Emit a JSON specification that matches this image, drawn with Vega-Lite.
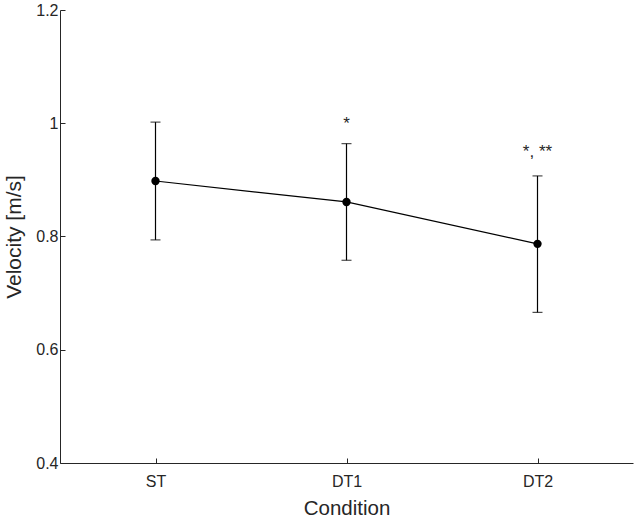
{
  "$schema": "https://vega.github.io/schema/vega-lite/v6.json",
  "width": 573,
  "height": 453,
  "autosize": "none",
  "padding": {"left": 60, "top": 10, "right": 5, "bottom": 55},
  "background": "white",
  "config": {
    "view": {"stroke": null},
    "font": "Liberation Sans",
    "axis": {
      "grid": false,
      "domainColor": "#262626",
      "tickColor": "#262626",
      "labelColor": "#262626",
      "titleColor": "#262626",
      "labelFont": "Liberation Sans",
      "titleFont": "Liberation Sans",
      "labelFontSize": 16,
      "titleFontSize": 21,
      "titleFontWeight": "normal",
      "tickSize": -5,
      "domainWidth": 1,
      "tickWidth": 1
    }
  },
  "data": {
    "values": [
      {"condition": "ST", "velocity": 0.898, "low": 0.794, "high": 1.002, "sig": "", "sig_y": 1.0},
      {"condition": "DT1", "velocity": 0.861, "low": 0.758, "high": 0.964, "sig": "*", "sig_y": 0.998},
      {"condition": "DT2", "velocity": 0.787, "low": 0.666, "high": 0.907, "sig": "*, **", "sig_y": 0.95}
    ]
  },
  "encoding": {
    "x": {
      "field": "condition",
      "type": "ordinal",
      "sort": ["ST", "DT1", "DT2"],
      "scale": {"type": "point", "padding": 0.5},
      "title": "Condition",
      "axis": {"labelAngle": 0, "labelPadding": 15, "titlePadding": 9, "titleFontSize": 20.5}
    }
  },
  "layer": [
    {
      "mark": {"type": "rule", "color": "#000000", "strokeWidth": 1.2},
      "encoding": {
        "y": {
          "field": "low",
          "type": "quantitative",
          "scale": {"domain": [0.4, 1.2], "nice": false, "zero": false},
          "title": "Velocity [m/s]",
          "axis": {"values": [0.4, 0.6, 0.8, 1, 1.2], "format": "~g", "labelPadding": 7, "titlePadding": 11, "titleFontSize": 21}
        },
        "y2": {"field": "high"}
      }
    },
    {
      "mark": {"type": "tick", "color": "#000000", "size": 10, "thickness": 1.2},
      "encoding": {"y": {"field": "low", "type": "quantitative"}}
    },
    {
      "mark": {"type": "tick", "color": "#000000", "size": 10, "thickness": 1.2},
      "encoding": {"y": {"field": "high", "type": "quantitative"}}
    },
    {
      "mark": {"type": "line", "color": "#000000", "strokeWidth": 1.2},
      "encoding": {"y": {"field": "velocity", "type": "quantitative"}}
    },
    {
      "mark": {"type": "point", "filled": true, "color": "#000000", "size": 70, "opacity": 1},
      "encoding": {"y": {"field": "velocity", "type": "quantitative"}}
    },
    {
      "mark": {"type": "text", "color": "#262626", "fontSize": 17, "baseline": "middle", "align": "center"},
      "encoding": {
        "y": {"field": "sig_y", "type": "quantitative"},
        "text": {"field": "sig"}
      }
    }
  ]
}
